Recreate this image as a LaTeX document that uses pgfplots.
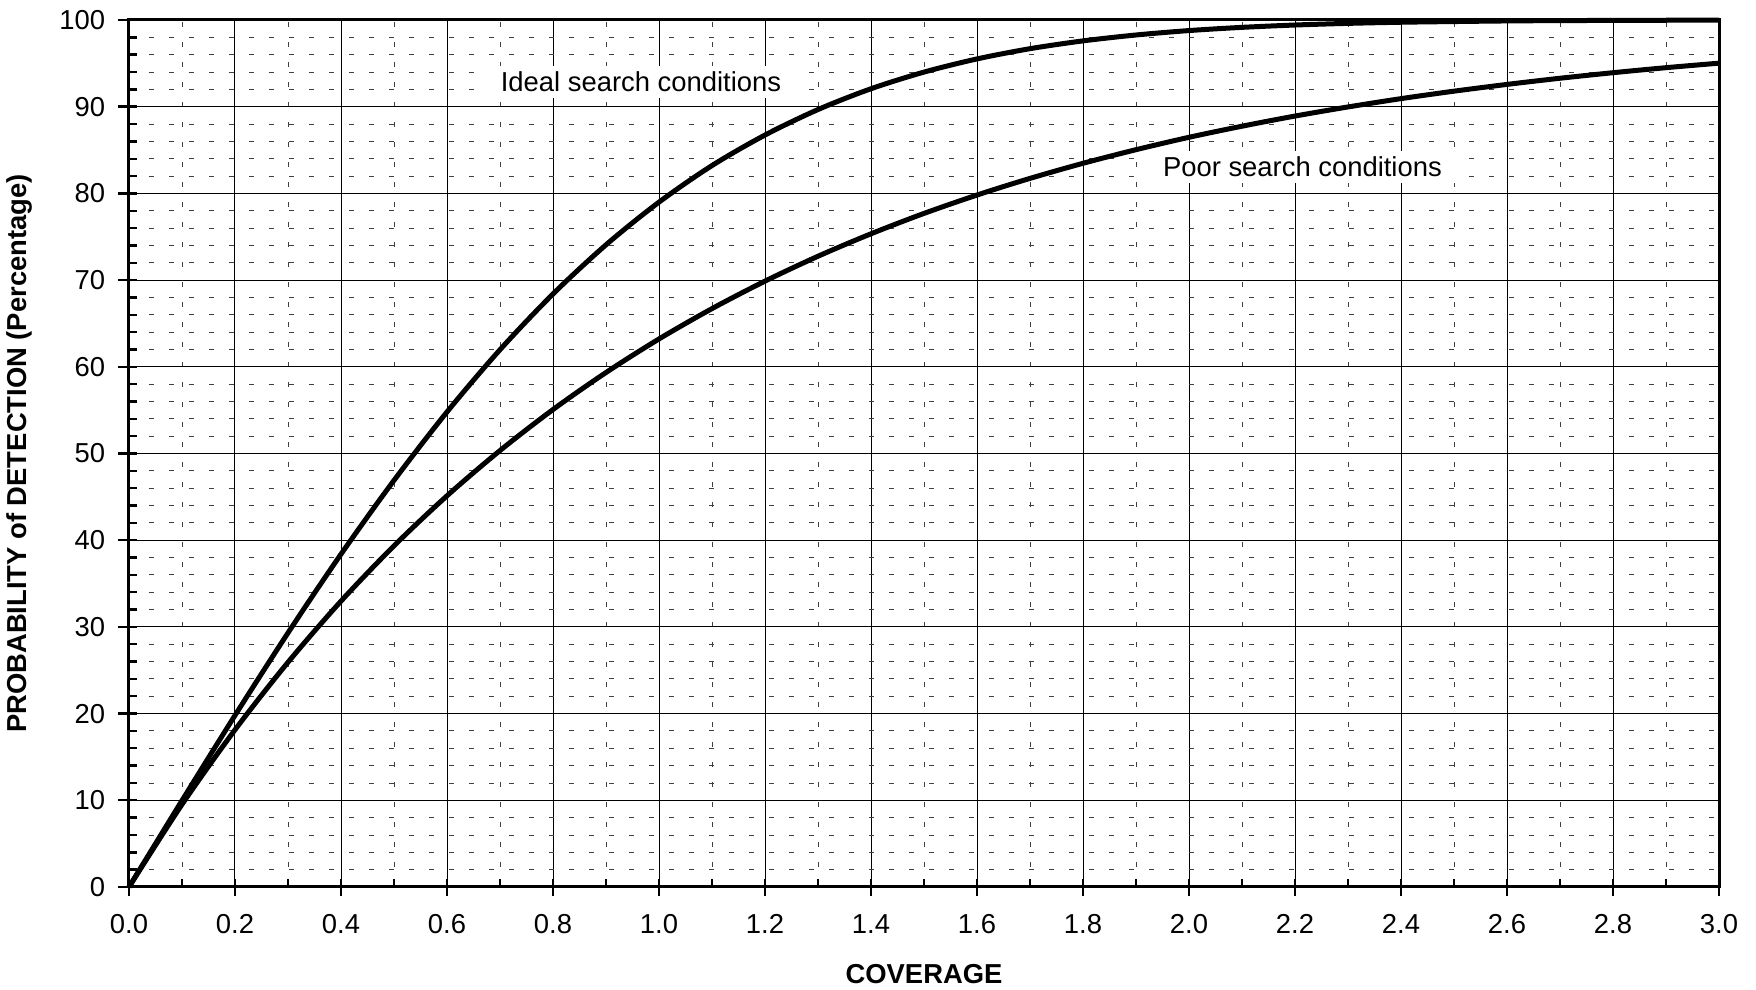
\documentclass[border=0pt]{standalone}
\usepackage{fontspec}
\setmainfont{Liberation Sans}
\usepackage{pgfplots}
\pgfplotsset{compat=1.18}
\newcommand\f{\fontsize{13.7pt}{16pt}\selectfont}
\begin{document}
\begin{tikzpicture}
\begin{axis}[
  scale only axis, width=795pt, height=433.5pt,
  xmin=0, xmax=3, ymin=0, ymax=100,
  xtick={0,0.2,0.4,0.6,0.8,1.0,1.2,1.4,1.6,1.8,2.0,2.2,2.4,2.6,2.8,3.0},
  ytick={0,10,20,30,40,50,60,70,80,90,100},
  minor x tick num=1, minor y tick num=4,
  grid=both,
  major grid style={black, line width=0.5pt},
  minor grid style={black!75, line width=0.45pt, dash pattern=on 2.5pt off 7.5pt},
  axis line style={line width=1.5pt},
  tick style={black, line width=1.2pt},
  tick align=inside, major tick length=4pt, minor tick length=4pt,
  tick pos=left,
  extra x ticks={0,0.2,0.4,0.6,0.8,1.0,1.2,1.4,1.6,1.8,2.0,2.2,2.4,2.6,2.8,3.0},
  extra x tick labels={},
  extra x tick style={tick align=outside, major tick length=4.5pt, grid=none},
  extra y ticks={0,10,20,30,40,50,60,70,80,90,100},
  extra y tick labels={},
  extra y tick style={tick align=outside, major tick length=5.5pt, grid=none},
  /pgf/number format/assume math mode=true,
  x tick label style={font=\f, yshift=-10.4pt, /pgf/number format/fixed, /pgf/number format/fixed zerofill, /pgf/number format/precision=1},
  y tick label style={font=\f, xshift=-8.4pt},
  xlabel={COVERAGE},
  ylabel={PROBABILITY of DETECTION (Percentage)},
  x label style={at={(axis description cs:0.5,-0.1003)}, anchor=center, font=\f\bfseries, inner sep=0pt},
  y label style={at={(axis description cs:-0.0686,0.5)}, anchor=center, font=\f\bfseries, inner sep=0pt},
  clip=false,
]
\addplot[black, line width=2.5pt, smooth] coordinates {
(0,0) (0.1,9.97) (0.2,19.79) (0.3,29.31) (0.4,38.39) (0.5,46.90) (0.6,54.79) (0.7,61.97) (0.8,68.40) (0.9,74.07)
(1.0,78.99) (1.1,83.21) (1.2,86.73) (1.3,89.67) (1.4,92.07) (1.5,93.99) (1.6,95.51) (1.7,96.69) (1.8,97.59) (1.9,98.27)
(2.0,98.78) (2.1,99.15) (2.2,99.42) (2.3,99.61) (2.4,99.74) (2.5,99.82) (2.6,99.89) (2.7,99.93) (2.8,99.95) (2.9,99.97) (3.0,99.98)
};
\addplot[black, line width=2.5pt, smooth] coordinates {
(0,0) (0.1,9.52) (0.2,18.13) (0.3,25.92) (0.4,32.97) (0.5,39.35) (0.6,45.12) (0.7,50.34) (0.8,55.07) (0.9,59.34)
(1.0,63.21) (1.1,66.71) (1.2,69.88) (1.3,72.75) (1.4,75.34) (1.5,77.69) (1.6,79.81) (1.7,81.73) (1.8,83.47) (1.9,85.04)
(2.0,86.47) (2.1,87.75) (2.2,88.92) (2.3,89.97) (2.4,90.93) (2.5,91.79) (2.6,92.57) (2.7,93.28) (2.8,93.92) (2.9,94.50) (3.0,95.02)
};
\node[fill=white, font=\f, inner xsep=7pt, inner ysep=3pt] at (axis cs:0.966,92.85) {Ideal search conditions};
\node[fill=white, font=\f, inner xsep=7pt, inner ysep=3pt] at (axis cs:2.214,83.04) {Poor search conditions};
\end{axis}
\path ([shift={(-64.5pt,-51.5pt)}]current axis.south west) rectangle ([shift={(18.5pt,10pt)}]current axis.north east);
\end{tikzpicture}
\end{document}
